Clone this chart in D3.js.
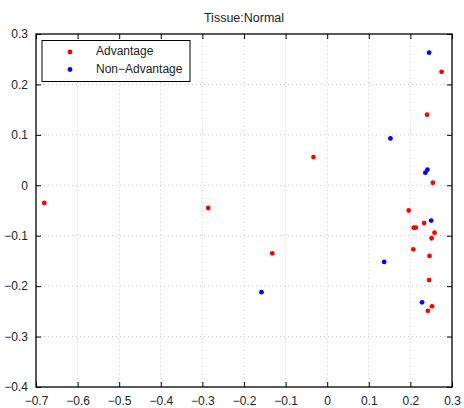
<!DOCTYPE html>
<html>
<head>
<meta charset="utf-8">
<script src="https://cdn.jsdelivr.net/npm/d3@7"></script>
<style>
  body { margin: 0; background: #fff; }
  text { font-family: "Liberation Sans", Arial, sans-serif; }
</style>
</head>
<body>
<div class="vis"></div>
<script>
// Width and height
var w = 464;
var h = 408;
var margin = {top: 34, right: 12, bottom: 21, left: 36};

var xTicks = [-0.7, -0.6, -0.5, -0.4, -0.3, -0.2, -0.1, 0, 0.1, 0.2, 0.3];
var yTicks = [-0.4, -0.3, -0.2, -0.1, 0, 0.1, 0.2, 0.3];

// Advantage (red)
var advX = [-0.68, -0.286, -0.132, -0.033, 0.275, 0.24, 0.254, 0.196, 0.233, 0.208,
            0.213, 0.258, 0.251, 0.207, 0.246, 0.245, 0.252, 0.242];
var advY = [-0.035, -0.045, -0.135, 0.056, 0.225, 0.14, 0.005, -0.05, -0.075, -0.084,
            -0.084, -0.094, -0.105, -0.127, -0.14, -0.188, -0.24, -0.249];
// Non-Advantage (blue)
var nonX = [-0.158, 0.245, 0.152, 0.236, 0.241, 0.25, 0.137, 0.228];
var nonY = [-0.212, 0.263, 0.093, 0.025, 0.031, -0.07, -0.152, -0.232];

var series = [
  {name: "Advantage", color: "#ff0000", xs: advX, ys: advY},
  {name: "Non\u2212Advantage", color: "#0000ff", xs: nonX, ys: nonY}
];

var fmt = function(d) { return d3.format("")(d).replace("-", "\u2212"); };

var svg = d3.select(".vis").append("svg")
    .attr("width", w)
    .attr("height", h);

var xScale = d3.scaleLinear().domain([-0.7, 0.3])
    .range([margin.left, w - margin.right]);
var yScale = d3.scaleLinear().domain([-0.4, 0.3])
    .range([h - margin.bottom, margin.top]);

var x0 = xScale.range()[0], x1 = xScale.range()[1];
var y0 = yScale.range()[0], y1 = yScale.range()[1];

// dotted grid
svg.append("g").selectAll("line")
    .data(xTicks.slice(1, -1))
    .enter().append("line")
    .attr("x1", function(d) { return xScale(d); })
    .attr("x2", function(d) { return xScale(d); })
    .attr("y1", y1).attr("y2", y0)
    .attr("stroke", "#bbb").attr("stroke-width", 0.8)
    .attr("stroke-dasharray", "1,3");

svg.append("g").selectAll("line")
    .data(yTicks.slice(1, -1))
    .enter().append("line")
    .attr("y1", function(d) { return yScale(d); })
    .attr("y2", function(d) { return yScale(d); })
    .attr("x1", x0).attr("x2", x1)
    .attr("stroke", "#bbb").attr("stroke-width", 0.8)
    .attr("stroke-dasharray", "1,3");

// axes with inward ticks on all sides
svg.append("g")
    .attr("transform", "translate(0," + y0 + ")")
    .call(d3.axisBottom(xScale).tickValues(xTicks).tickSizeInner(-5).tickSizeOuter(0).tickPadding(9).tickFormat(fmt))
    .call(function(g) { g.select(".domain").remove(); });

svg.append("g")
    .attr("transform", "translate(0," + y1 + ")")
    .call(d3.axisTop(xScale).tickValues(xTicks).tickSizeInner(-5).tickSizeOuter(0).tickFormat(""))
    .call(function(g) { g.select(".domain").remove(); });

svg.append("g")
    .attr("transform", "translate(" + x0 + ",0)")
    .call(d3.axisLeft(yScale).tickValues(yTicks).tickSizeInner(-5).tickSizeOuter(0).tickPadding(8).tickFormat(fmt))
    .call(function(g) { g.select(".domain").remove(); });

svg.append("g")
    .attr("transform", "translate(" + x1 + ",0)")
    .call(d3.axisRight(yScale).tickValues(yTicks).tickSizeInner(-5).tickSizeOuter(0).tickFormat(""))
    .call(function(g) { g.select(".domain").remove(); });

svg.selectAll(".tick text")
    .style("font-size", "12px")
    .attr("fill", "#222");

// frame
svg.append("rect")
    .attr("x", x0).attr("y", y1)
    .attr("width", x1 - x0).attr("height", y0 - y1)
    .attr("fill", "none").attr("stroke", "#000").attr("stroke-width", 1.3);

// points
series.forEach(function(s) {
  svg.append("g").selectAll("circle")
      .data(s.xs.map(function(x, i) { return [x, s.ys[i]]; }))
      .enter().append("circle")
      .attr("cx", function(d) { return xScale(d[0]); })
      .attr("cy", function(d) { return yScale(d[1]); })
      .attr("r", 2.4)
      .attr("fill", s.color);
});

// title
svg.append("text")
    .attr("x", (x0 + x1) / 2).attr("y", 22)
    .attr("text-anchor", "middle")
    .style("font-size", "12.5px")
    .attr("fill", "#222")
    .text("Tissue:Normal");

// legend
var leg = svg.append("g");
leg.append("rect")
    .attr("x", 42).attr("y", 40.5)
    .attr("width", 148).attr("height", 41)
    .attr("fill", "#fff").attr("stroke", "#000").attr("stroke-width", 1);

series.forEach(function(s, i) {
  var ly = 52 + i * 17.5;
  leg.append("circle").attr("cx", 70).attr("cy", ly).attr("r", 2.4).attr("fill", s.color);
  leg.append("text").attr("x", 96).attr("y", ly)
      .attr("dominant-baseline", "middle")
      .style("font-size", "12px")
      .attr("fill", "#222")
      .text(s.name);
});
</script>
</body>
</html>
